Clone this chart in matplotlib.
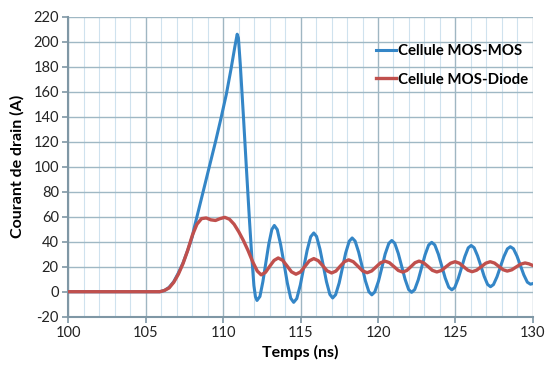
import matplotlib
matplotlib.use('Agg')
import matplotlib.pyplot as plt
from matplotlib.ticker import MultipleLocator

plt.rcParams['axes.unicode_minus'] = False

# Cellule MOS-MOS (blue)
t_mos = [100, 105, 105.9, 106.2, 106.5, 106.8, 107.1, 107.4, 107.7, 108.0, 108.1,
         108.5, 109.0, 109.5, 109.84, 110.2, 110.5, 110.75, 110.9,
         110.98, 111.1, 111.3, 111.5, 111.7, 111.85, 111.98, 112.08, 112.18,
         112.37, 112.56, 112.75, 112.94, 113.14, 113.3,
         113.49, 113.71, 113.93, 114.14, 114.36, 114.55,
         114.75, 114.98, 115.2, 115.42, 115.65, 115.85,
         116.03, 116.25, 116.46, 116.67, 116.89, 117.07,
         117.26, 117.49, 117.7, 117.91, 118.14, 118.33,
         118.52, 118.75, 118.97, 119.18, 119.41, 119.6,
         119.79, 120.03, 120.25, 120.46, 120.7, 120.89,
         121.08, 121.31, 121.53, 121.75, 121.98, 122.17,
         122.37, 122.6, 122.82, 123.04, 123.27, 123.47,
         123.67, 123.9, 124.12, 124.34, 124.57, 124.77,
         124.96, 125.18, 125.4, 125.61, 125.83, 126.02,
         126.21, 126.43, 126.65, 126.86, 127.08, 127.27,
         127.46, 127.69, 127.91, 128.13, 128.36, 128.55,
         128.75, 128.98, 129.2, 129.42, 129.65, 129.85, 130]
i_mos = [0, 0, 0, 1, 3.5, 8, 15, 23, 33, 44, 50,
         70, 95, 120, 138, 158, 178, 196, 206,
         203, 182, 141, 98, 56, 27, 5, -4, -7,
         -3.8, 8, 23, 38, 49.8, 53,
         49.7, 37.6, 22.3, 7, -5.2, -8.5,
         -5.5, 5.4, 19.3, 33.1, 44, 47,
         44.2, 34, 21, 8, -2.2, -5,
         -2.4, 7, 19, 31, 40.4, 43,
         40.5, 31.6, 20.3, 8.9, 0, -2.5,
         -0.2, 8.4, 19.3, 30.1, 38.7, 41,
         38.8, 30.6, 20.3, 9.9, 1.7, -0.5,
         1.7, 9.5, 19.5, 29.5, 37.3, 39.5,
         37.4, 30, 20.5, 11, 3.6, 1.5,
         3.4, 10.4, 19.3, 28.1, 35.1, 37,
         35.2, 28.8, 20.5, 12.3, 5.8, 4,
         5.7, 12, 20, 28, 34.3, 36,
         34.4, 28.5, 21, 13.5, 7.6, 6, 6.5]

# Cellule MOS-Diode (red)
t_diode = [100, 105.9, 106.2, 106.5, 106.8, 107.1, 107.4, 107.7, 108.0, 108.3,
           108.6, 108.9, 109.2, 109.5, 109.8, 110.1, 110.4, 110.7, 111.0,
           111.3, 111.6, 111.9, 112.2, 112.45,
           112.73, 113.0, 113.28, 113.55,
           113.84, 114.13, 114.41, 114.7,
           114.99, 115.28, 115.56, 115.85,
           116.14, 116.43, 116.71, 117.0,
           117.28, 117.55, 117.83, 118.1,
           118.4, 118.7, 119.0, 119.3,
           119.59, 119.88, 120.16, 120.45,
           120.74, 121.03, 121.31, 121.6,
           121.86, 122.13, 122.39, 122.65,
           122.94, 123.23, 123.51, 123.8,
           124.1, 124.39, 124.69, 124.98,
           125.26, 125.53, 125.81, 126.08,
           126.37, 126.67, 126.96, 127.25,
           127.53, 127.8, 128.08, 128.35,
           128.64, 128.93, 129.21, 129.5, 129.75, 130]
i_diode = [0, 0, 1, 3, 7.5, 14, 22.5, 33, 45, 54,
           58.5, 59, 57.5, 57, 58.5, 59.5, 58, 54, 48,
           41, 33, 24, 16.5, 13.5,
           15.5, 20.3, 25, 27,
           25.1, 20.5, 15.9, 14,
           15.8, 20.3, 24.7, 26.5,
           24.8, 20.8, 16.7, 15,
           16.5, 20.3, 24, 25.5,
           24, 20.4, 16.7, 15.2,
           16.6, 19.9, 23.1, 24.5,
           23.2, 20.1, 17, 15.7,
           17, 20.1, 23.2, 24.5,
           23.2, 20.2, 17.1, 15.8,
           17, 19.9, 22.8, 24,
           22.8, 20, 17.2, 16,
           17.2, 20, 22.8, 24,
           22.9, 20.3, 17.6, 16.5,
           17.5, 19.8, 22, 23, 22.3, 21]

fig = plt.figure(figsize=(5.47, 3.69), dpi=100)
ax = fig.add_axes([0.1252, 0.1417, 0.8488, 0.813])

ax.plot(t_mos, i_mos, color='#3486c7', lw=2.2, label='Cellule MOS-MOS', zorder=3)
ax.plot(t_diode, i_diode, color='#c0504d', lw=2.4, label='Cellule MOS-Diode', zorder=4)

ax.set_xlim(100, 130)
ax.set_ylim(-20, 220)
ax.xaxis.set_major_locator(MultipleLocator(5))
ax.xaxis.set_minor_locator(MultipleLocator(1))
ax.yaxis.set_major_locator(MultipleLocator(20))

ax.grid(True, which='minor', axis='x', color='#cfe2ee', lw=0.8)
ax.grid(True, which='major', axis='x', color='#9fb6c2', lw=1.0)
ax.grid(True, which='major', axis='y', color='#9fb8c4', lw=1.0)
ax.set_axisbelow(True)

for s in ['top', 'right']:
    ax.spines[s].set_visible(False)
for s in ['left', 'bottom']:
    ax.spines[s].set_color('#7f97a5')
    ax.spines[s].set_linewidth(1.5)

font = 'Lato'
ax.tick_params(axis='both', which='major', length=4, width=1.2, color='#7f97a5',
               labelsize=10.5, pad=3)
ax.tick_params(axis='both', which='minor', length=0)
for lbl in ax.get_xticklabels() + ax.get_yticklabels():
    lbl.set_fontfamily(font)
    lbl.set_color('#222222')

ax.set_xlabel('Temps (ns)', fontsize=11.5, fontweight='bold', family=font, labelpad=3)
ax.set_ylabel('Courant de drain (A)', fontsize=11.5, fontweight='bold', family=font, labelpad=6)

leg = ax.legend(loc='upper left', bbox_to_anchor=(0.656, 0.918), frameon=False,
                handlelength=1.3, handletextpad=0.15, labelspacing=0.95,
                borderaxespad=0, borderpad=0.2,
                prop={'family': font, 'weight': 'bold', 'size': 10.8})

fig.savefig('out.png', dpi=100)
